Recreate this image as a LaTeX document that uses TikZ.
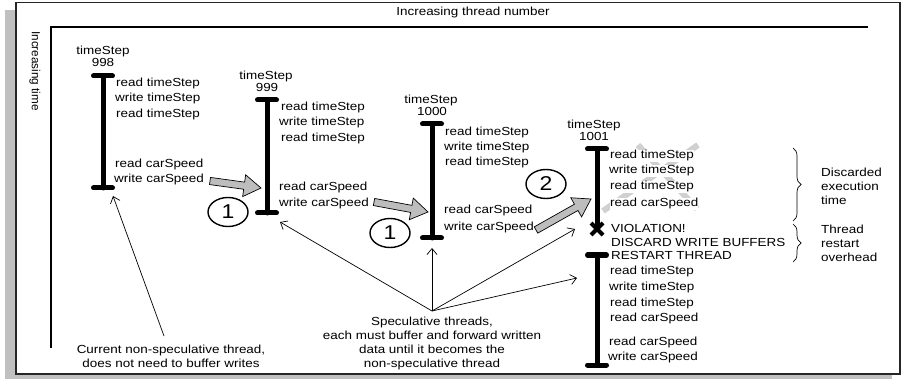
\documentclass[tikz,border=0pt]{standalone}
\usepackage{fontspec}
\setmainfont{Liberation Sans}[FakeStretch=1.15]
\newfontfamily\plainfont{Liberation Sans}
\usetikzlibrary{calc,arrows.meta,decorations.pathreplacing,shapes.geometric}
\newcommand\fs{\fontsize{11.7}{14}\selectfont}
\definecolor{shadowgray}{HTML}{C0C0C0}
\definecolor{arrowgray}{HTML}{BDBDBD}
\definecolor{xgray}{HTML}{D0D0D0}
\tikzset{
  thread/.style={line width=5pt, line cap=round},
  ln/.style={anchor=west, inner sep=0pt, text height=8.5pt, text depth=2.5pt, font=\fs},
  lnw/.style={ln, fill=white, inner ysep=0.5pt},
  hdr/.style={anchor=center, inner sep=0pt, text height=8.5pt, text depth=2.5pt, font=\fs},
  note/.style={align=center, inner sep=0pt, font=\fs, text depth=0pt},
  circ/.style={draw, line width=1.4pt, ellipse, minimum width=40pt, minimum height=29pt, inner sep=0pt, font=\fontsize{20}{20}\selectfont},
  pointer/.style={line width=0.7pt, -{Straight Barb[length=6pt,width=10pt]}},
  brc/.style={decorate, decoration={brace, amplitude=8pt}, line width=0.7pt},
}
\newcommand\blockarrow[2]{%
  \coordinate (h) at ($(#2)!17pt!(#1)$);
  \filldraw[fill=arrowgray, draw=black, line width=0.7pt, line join=miter]
    ($(#1)!3.6pt!90:(#2)$) -- ($(h)!3.6pt!-90:(#1)$) -- ($(h)!11pt!-90:(#1)$) --
    (#2) -- ($(h)!11pt!90:(#1)$) -- ($(h)!3.6pt!90:(#1)$) -- ($(#1)!3.6pt!-90:(#2)$) -- cycle;
}
\begin{document}
\begin{tikzpicture}[x=1pt,y=-1pt]
\useasboundingbox (0,0) rectangle (904,379);
% frame
\fill[shadowgray] (5,10) rectangle (892,379);
\filldraw[fill=white, draw=black!85, line width=1.6pt] (16,2.5) rectangle (900,374);
\draw[line width=1.2pt] (868,27) -- (51,27) -- (51,348);
\node[hdr] (xlab) at (473,13) {Increasing thread number};
\node[anchor=center, inner sep=0pt, rotate=-90, font=\plainfont\fontsize{11.7}{14}\selectfont] (ylab) at (35,71) {Increasing time};

% thread 1 (998)
\node[hdr] (h1a) at (103,52) {timeStep};
\node[hdr] (h1b) at (103,64) {998};
\coordinate (b1t) at (103,76); \coordinate (b1b) at (103,188);
\draw[thread] (b1t) -- (b1b);
\draw[thread] ($(b1t)+(-9.5,0)$) -- ($(b1t)+(9.5,0)$);
\draw[thread] ($(b1b)+(-9.5,0)$) -- ($(b1b)+(9.5,0)$);
\node[ln] (l1a) at (116,84) {read timeStep};
\node[ln] (l1b) at (115,99) {write timeStep};
\node[ln] (l1c) at (116,115) {read timeStep};
\node[ln] (l1d) at (115,165) {read carSpeed};
\node[ln] (l1e) at (114,180) {write carSpeed};

% thread 2 (999)
\node[hdr] (h2a) at (266,77) {timeStep};
\node[hdr] (h2b) at (267,89) {999};
\coordinate (b2t) at (267,100); \coordinate (b2b) at (267,213);
\draw[thread] (b2t) -- (b2b);
\draw[thread] ($(b2t)+(-9.5,0)$) -- ($(b2t)+(9.5,0)$);
\draw[thread] ($(b2b)+(-9.5,0)$) -- ($(b2b)+(9.5,0)$);
\node[ln] (l2a) at (281,108) {read timeStep};
\node[ln] (l2b) at (279,123) {write timeStep};
\node[ln] (l2c) at (281,139) {read timeStep};
\node[ln] (l2d) at (279,188) {read carSpeed};
\node[ln] (l2e) at (279,204) {write carSpeed};

% thread 3 (1000)
\node[hdr] (h3a) at (431,101) {timeStep};
\node[hdr] (h3b) at (432,113) {1000};
\coordinate (b3t) at (432,124); \coordinate (b3b) at (432,238);
\draw[thread] (b3t) -- (b3b);
\draw[thread] ($(b3t)+(-9.5,0)$) -- ($(b3t)+(9.5,0)$);
\draw[thread] ($(b3b)+(-9.5,0)$) -- ($(b3b)+(9.5,0)$);
\node[ln] (l3a) at (445,133) {read timeStep};
\node[ln] (l3b) at (444,148) {write timeStep};
\node[ln] (l3c) at (445,163) {read timeStep};
\node[ln] (l3d) at (444,211) {read carSpeed};
\node[ln] (l3e) at (444,228) {write carSpeed};

% thread 4 (1001), discarded
\node[hdr] (h4a) at (594,126) {timeStep};
\node[hdr] (h4b) at (594,138) {1001};
\coordinate (xa1) at (638,145); \coordinate (xa2) at (697,209);
\coordinate (xb1) at (698,145); \coordinate (xb2) at (603,211);
\draw[xgray, line width=6pt] (xa1) -- (xa2);
\draw[xgray, line width=6pt] (xb1) -- (xb2);
\coordinate (b4t) at (597,149); \coordinate (b4b) at (597,229);
\draw[thread] (b4t) -- (b4b);
\draw[thread] ($(b4t)+(-9.5,0)$) -- ($(b4t)+(9.5,0)$);
\draw[line width=4pt] ($(b4b)+(-6,-6)$) -- ($(b4b)+(6,6)$);
\draw[line width=4pt] ($(b4b)+(-6,6)$) -- ($(b4b)+(6,-6)$);
\node[lnw] (l4a) at (610,156) {read timeStep};
\node[lnw] (l4b) at (609,171) {write timeStep};
\node[lnw] (l4c) at (610,187) {read timeStep};
\node[lnw] (l4d) at (610,204) {read carSpeed};
\node[ln] (v1) at (611,230) {VIOLATION!};
\node[ln] (v2) at (611,244) {DISCARD WRITE BUFFERS};
\node[ln] (v3) at (611,256) {RESTART THREAD};

% thread 5 (restart)
\coordinate (b5t) at (597,255); \coordinate (b5b) at (597,365);
\draw[thread] (b5t) -- (b5b);
\draw[thread] ($(b5t)+(-9.5,0)$) -- ($(b5t)+(9.5,0)$);
\draw[thread] ($(b5b)+(-9.5,0)$) -- ($(b5b)+(9.5,0)$);
\node[ln] (l5a) at (610,271) {read timeStep};
\node[ln] (l5b) at (609,287) {write timeStep};
\node[ln] (l5c) at (610,303) {read timeStep};
\node[ln] (l5d) at (610,318) {read carSpeed};
\node[ln] (l5e) at (609,342) {read carSpeed};
\node[ln] (l5f) at (608,357) {write carSpeed};

% braces
\coordinate (br1t) at (793,148); \coordinate (br1b) at (793,221);
\coordinate (br2t) at (793,224); \coordinate (br2b) at (793,262);
\draw[brc] (br1t) -- (br1b);
\draw[brc] (br2t) -- (br2b);
\node[anchor=west, align=left, inner sep=0pt, font=\fs] (disc) at (821,186) {Discarded\\execution\\time};
\node[anchor=west, align=left, inner sep=0pt, font=\fs] (rest) at (821,243) {Thread\\restart\\overhead};

% block arrows (data forwarding)
\coordinate (a1s) at (210,181); \coordinate (a1e) at (261,188);
\coordinate (a2s) at (374,202); \coordinate (a2e) at (428,212);
\coordinate (a3s) at (536,230); \coordinate (a3e) at (591,199);
\blockarrow{a1s}{a1e}
\blockarrow{a2s}{a2e}
\blockarrow{a3s}{a3e}
\node[circ] (c1) at (228,212) {1};
\node[circ] (c2) at (390,233) {1};
\node[circ] (c3) at (546,184) {2};

% notes
\node[note] (cur) at (171,356) {Current non-speculative thread,\\does not need to buffer writes};
\node[note] (spec) at (432,342) {Speculative threads,\\each must buffer and forward written\\data until it becomes the\\non-speculative thread};
\coordinate (curo) at (164,336);
\coordinate (curt) at (113,196);
\draw[pointer] (curo) -- (curt);
\coordinate (spo) at (432,311);
\coordinate (st2) at (280,222);
\coordinate (st3) at (432,248);
\coordinate (st4) at (575,229);
\coordinate (st5) at (577,278);
\draw[pointer] (spo) -- (st2);
\draw[pointer] (spo) -- (st3);
\draw[pointer] (spo) -- (st4);
\draw[pointer] (spo) -- (st5);
\end{tikzpicture}
\end{document}
